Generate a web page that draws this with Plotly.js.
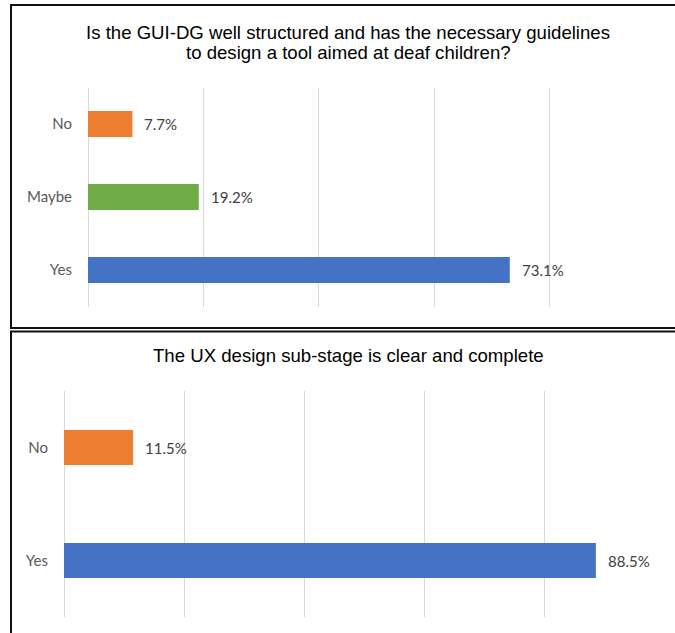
<!DOCTYPE html>
<html>
<head>
<meta charset="utf-8">
<script src="https://cdn.plot.ly/plotly-3.0.1.min.js"></script>
<style>
html, body { margin: 0; padding: 0; background: #ffffff; }
#chart { width: 675px; height: 633px; }
</style>
</head>
<body>
<div id="chart"></div>
<script>
// ---- Data ----
const title1Lines = ["Is the GUI-DG well structured and has the necessary guidelines",
                     "to design a tool aimed at deaf children?"];
const categories1 = ["No", "Maybe", "Yes"];
const values1 = [7.7, 19.2, 73.1];
const colors1 = ["#ED7D31", "#70AD47", "#4472C4"];

const title2 = "The UX design sub-stage is clear and complete";
const categories2 = ["No", "Yes"];
const values2 = [11.5, 88.5];
const colors2 = ["#ED7D31", "#4472C4"];

const W = 675, H = 633;
const px = v => v / W;
const py = v => 1 - v / H;

const labelFont = { family: "Lato, 'Open Sans', sans-serif", size: 15, color: "#404040" };
const tickFont = { family: "Lato, 'Open Sans', sans-serif", size: 15, color: "#595959" };
const titleFont = { family: "'Liberation Sans', Arial, sans-serif", size: 18.6, color: "#000000" };

const trace1 = {
  type: "bar", orientation: "h",
  y: categories1, x: values1,
  xaxis: "x", yaxis: "y",
  marker: { color: colors1 },
  width: 0.356,
  hoverinfo: "none"
};

const trace2 = {
  type: "bar", orientation: "h",
  y: categories2, x: values2,
  xaxis: "x2", yaxis: "y2",
  marker: { color: colors2 },
  width: 0.31,
  hoverinfo: "none"
};

const xCommon = {
  range: [0, 100], dtick: 20, showgrid: true, gridcolor: "#d9d9d9", gridwidth: 1,
  zeroline: true, zerolinecolor: "#d9d9d9", zerolinewidth: 1,
  showticklabels: false, ticks: "", showline: false, fixedrange: true
};
const yCommon = {
  autorange: "reversed", showgrid: false, zeroline: false, showline: false,
  ticks: "", tickfont: tickFont, ticklabelstandoff: 15, fixedrange: true
};

function valueLabels(cats, vals, xr, yr) {
  return cats.map((c, i) => ({
    text: vals[i].toFixed(1) + "%", x: vals[i], y: c, xref: xr, yref: yr,
    xanchor: "left", yanchor: "middle", xshift: 10, showarrow: false, font: labelFont
  }));
}

const annotations = [
  { text: title1Lines[0], xref: "paper", yref: "paper", x: px(348.5), y: py(32),
    xanchor: "center", yanchor: "middle", showarrow: false, font: titleFont },
  { text: title1Lines[1], xref: "paper", yref: "paper", x: px(348.5), y: py(52.5),
    xanchor: "center", yanchor: "middle", showarrow: false, font: titleFont },
  { text: title2, xref: "paper", yref: "paper", x: px(348.5), y: py(355),
    xanchor: "center", yanchor: "middle", showarrow: false, font: titleFont }
].concat(valueLabels(categories1, values1, "x", "y"))
 .concat(valueLabels(categories2, values2, "x2", "y2"));

const layout = {
  width: W, height: H,
  margin: { l: 0, r: 0, t: 0, b: 0 },
  paper_bgcolor: "#ffffff", plot_bgcolor: "rgba(0,0,0,0)",
  showlegend: false,
  xaxis: Object.assign({}, xCommon, { domain: [px(88), px(665)], anchor: "y" }),
  yaxis: Object.assign({}, yCommon, { domain: [py(306.5), py(87.5)], anchor: "x" }),
  xaxis2: Object.assign({}, xCommon, { domain: [px(64), px(665)], anchor: "y2" }),
  yaxis2: Object.assign({}, yCommon, { domain: [py(617), py(391)], anchor: "x2" }),
  annotations: annotations,
  shapes: [
    { type: "rect", xref: "paper", yref: "paper", x0: px(11), x1: px(690), y0: py(328), y1: py(5),
      line: { color: "#111111", width: 2 }, fillcolor: "rgba(0,0,0,0)" },
    { type: "rect", xref: "paper", yref: "paper", x0: px(11), x1: px(690), y0: py(650), y1: py(331.5),
      line: { color: "#111111", width: 2 }, fillcolor: "rgba(0,0,0,0)" }
  ]
};

Plotly.newPlot("chart", [trace1, trace2], layout, { staticPlot: true, displayModeBar: false });
</script>
</body>
</html>
